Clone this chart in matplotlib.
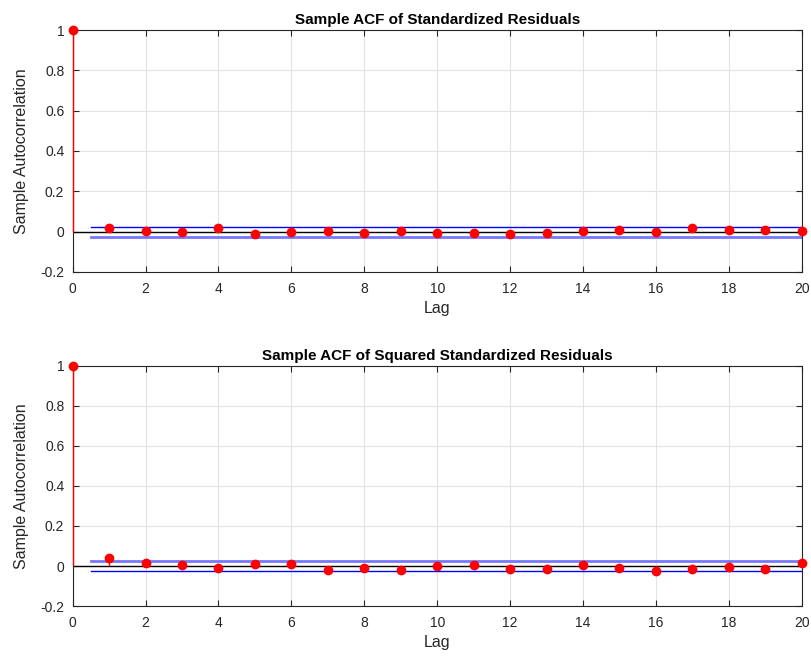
import numpy as np
import matplotlib
matplotlib.use("Agg")
import matplotlib.pyplot as plt

plt.rcParams['font.family'] = ['Liberation Sans', 'DejaVu Sans']

lags = np.arange(0, 21)

# sample ACF of standardized residuals (lag 0..20)
acf_res = [1.0, 0.017, 0.005, -0.002, 0.017, -0.010, 0.000, 0.002, -0.008, 0.002, -0.005,
           -0.005, -0.011, -0.005, 0.005, 0.008, -0.003, 0.018, 0.010, 0.008, 0.005]
# sample ACF of squared standardized residuals
acf_sq = [1.0, 0.041, 0.017, 0.003, -0.008, 0.010, 0.010, -0.021, -0.012, -0.018, 0.002,
          0.005, -0.015, -0.015, 0.007, -0.012, -0.026, -0.015, -0.007, -0.013, 0.013]
bound = 0.025

titles = ["Sample ACF of Standardized Residuals",
          "Sample ACF of Squared Standardized Residuals"]

fig = plt.figure(figsize=(8.11, 6.6), dpi=100)
ax1 = fig.add_axes([0.0896, 0.588, 0.899, 0.3665])
ax2 = fig.add_axes([0.0896, 0.0818, 0.899, 0.3637])

dark = '#0000ff'
light = '#7777ff'

for ax, acf, title, (c_up, c_lo, w_up, w_lo) in zip(
        [ax1, ax2], [acf_res, acf_sq], titles,
        [(dark, light, 1.0, 2.0), (light, dark, 2.0, 1.0)]):
    ax.set_xlim(0, 20)
    ax.set_ylim(-0.2, 1)
    ax.grid(True, color='#e3e3e3', linewidth=0.8)
    ax.set_axisbelow(True)
    ax.axhline(0, color='black', linewidth=1.0, zorder=2)
    ax.plot([0.5, 20.5], [bound, bound], color=c_up, linewidth=w_up, zorder=2)
    ax.plot([0.5, 20.5], [-bound, -bound], color=c_lo, linewidth=w_lo, zorder=2)
    ax.vlines(lags, 0, acf, color='red', linewidth=1.0, zorder=3, clip_on=False)
    ax.plot(lags, acf, 'o', color='red', markersize=6, zorder=4, clip_on=False)
    ax.set_xticks(np.arange(0, 21, 2))
    ax.set_yticks(np.arange(-0.2, 1.01, 0.2))
    ax.set_yticklabels(['-0.2', '0', '0.2', '0.4', '0.6', '0.8', '1'])
    ax.tick_params(direction='in', top=True, right=True, length=4,
                   labelsize=10, colors='#262626', width=0.8, pad=6)
    ax.tick_params(axis='x', pad=7.5)
    for s in ax.spines.values():
        s.set_color('#262626')
        s.set_linewidth(0.8)
    ax.set_xlabel('Lag', fontsize=11.5, color='#262626', labelpad=3)
    ax.set_ylabel('Sample Autocorrelation', fontsize=11.5, color='#262626', labelpad=8)
    ax.set_title(title, fontsize=11, fontweight='bold', pad=4)

fig.savefig('out.png', dpi=100)
